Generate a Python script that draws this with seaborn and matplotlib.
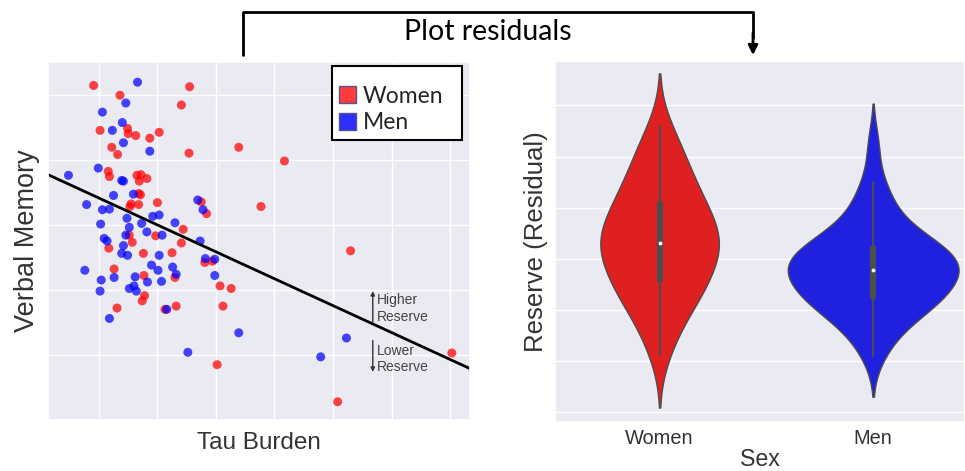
import numpy as np
import pandas as pd
import matplotlib
matplotlib.use("Agg")
import matplotlib.pyplot as plt
from matplotlib.patches import Patch
from matplotlib.lines import Line2D
import seaborn as sns

# scatter values (arbitrary units, no tick labels in the original)
women_tau = [0.91, 2.55, 1.36, 2.41, 1.02, 1.49, 1.50, 1.63, 1.87, 2.03, 1.22, 1.32, 2.54, 3.39,
             1.16, 1.18, 1.65, 1.72, 1.82, 1.69, 1.68, 1.71, 1.55, 1.53, 1.68, 2.00, 2.75, 2.84,
             3.77, 2.44, 1.52, 1.97, 1.57, 2.41, 1.17, 1.76, 2.25, 2.81, 2.94, 1.26, 2.30, 1.77,
             3.07, 3.26, 1.78, 1.74, 1.31, 2.13, 2.32, 3.12, 3.02, 4.17, 5.30, 5.08, 7.03]
women_mem = [5.14, 5.12, 4.99, 4.84, 4.45, 4.48, 4.40, 4.37, 4.33, 4.42, 4.19, 4.08, 4.10, 4.19,
             3.82, 3.74, 3.76, 3.77, 3.71, 3.67, 3.48, 3.46, 3.32, 3.28, 3.31, 3.34, 3.35, 3.17,
             3.28, 2.93, 2.84, 2.83, 2.73, 2.72, 2.64, 2.56, 2.57, 2.42, 2.44, 2.32, 2.19, 2.22,
             2.06, 2.02, 1.91, 1.83, 1.72, 1.70, 1.75, 1.75, 0.85, 3.98, 2.60, 0.28, 1.03]
men_tau = [1.66, 1.46, 1.06, 1.40, 1.23, 1.42, 1.87, 0.48, 0.99, 1.39, 1.42, 1.25, 1.59, 0.79,
           1.06, 1.18, 2.69, 2.78, 1.92, 2.03, 1.48, 1.03, 2.30, 1.52, 1.73, 1.82, 1.09, 1.14,
           1.46, 2.08, 2.73, 1.42, 1.39, 1.49, 2.03, 2.82, 2.98, 0.76, 1.90, 2.01, 2.26, 2.32,
           1.04, 1.26, 1.62, 1.83, 2.07, 2.98, 1.02, 1.52, 1.64, 1.60, 2.16, 1.18, 3.39, 2.52,
           5.23, 4.79]
men_mem = [5.19, 4.87, 4.73, 4.57, 4.45, 4.26, 4.13, 3.76, 3.87, 3.68, 3.67, 3.45, 3.47, 3.31,
           3.23, 3.24, 3.38, 3.23, 3.13, 3.15, 3.10, 3.01, 3.03, 2.96, 3.02, 2.89, 2.79, 2.75,
           2.84, 2.84, 2.75, 2.68, 2.56, 2.53, 2.53, 2.48, 2.47, 2.30, 2.38, 2.30, 2.35, 2.24,
           2.15, 2.19, 2.20, 2.12, 2.13, 2.22, 1.98, 2.02, 1.98, 2.06, 1.70, 1.56, 1.34, 1.04,
           1.26, 0.97]

# fitted line end points
fit_tau = [0.13, 7.34]
fit_mem = [3.77, 0.79]

# residuals shown in the violins
women_resid = [-1.87, -1.55, -1.30, -1.10, -0.95, -0.82, -0.70, -0.62, -0.55, -0.48,
               -0.40, -0.30, -0.20, -0.10, 0.00, 0.08, 0.15, 0.22, 0.27, 0.30,
               0.33, 0.40, 0.48, 0.56, 0.65, 0.74, 0.83, 0.92, 0.99, 1.06,
               1.15, 1.27, 1.40, 1.52, 1.66, 1.80, 1.96, 2.12, 2.33, 2.59]
men_resid = [-1.89, -1.60, -1.40, -1.25, -1.12, -1.02, -0.95, -0.88, -0.84, -0.80,
             -0.74, -0.68, -0.62, -0.56, -0.50, -0.44, -0.38, -0.32, -0.27, -0.23,
             -0.19, -0.15, -0.10, -0.06, -0.02, 0.03, 0.08, 0.12, 0.16, 0.20,
             0.26, 0.33, 0.42, 0.52, 0.65, 0.80, 1.00, 1.25, 1.50, 2.23]

sexes = ["Women", "Men"]
sex_colors = ["red", "blue"]

scatter_df = pd.concat([
    pd.DataFrame({"tau": women_tau, "memory": women_mem, "sex": "Women"}),
    pd.DataFrame({"tau": men_tau, "memory": men_mem, "sex": "Men"}),
], ignore_index=True)
resid_df = pd.concat([
    pd.DataFrame({"resid": women_resid, "sex": "Women"}),
    pd.DataFrame({"resid": men_resid, "sex": "Men"}),
], ignore_index=True)

sns.set_theme(style="darkgrid")
plt.rcParams["font.family"] = ["Liberation Sans", "DejaVu Sans"]
label_color = "#333333"

fig = plt.figure(figsize=(9.65, 4.71), dpi=100)
fig.patch.set_facecolor("white")
ax1 = fig.add_axes([0.0497, 0.1083, 0.4373, 0.760])
ax2 = fig.add_axes([0.5751, 0.104, 0.4249, 0.7665])

# left: scatter + fitted line
sns.scatterplot(data=scatter_df, x="tau", y="memory", hue="sex", hue_order=sexes,
                palette=sex_colors, s=42, alpha=0.72, linewidth=0, legend=False, ax=ax1)
sns.lineplot(x=fit_tau, y=fit_mem, color="black", linewidth=2, ax=ax1)
ax1.set_xlim(0.13, 7.34)
ax1.set_ylim(0.0, 5.5)
ax1.set_xticks(range(1, 8))
ax1.set_yticks(range(1, 6))
ax1.set_xticklabels([])
ax1.set_yticklabels([])
ax1.tick_params(length=0, pad=0)
ax1.set_xlabel("Tau Burden", fontsize=17.5, color=label_color, labelpad=9)
ax1.set_ylabel("Verbal Memory", fontsize=19.5, color=label_color, labelpad=6)

handles = [Patch(facecolor="#ff3b3b", edgecolor="#55558a", label="Women"),
           Patch(facecolor="#2e2eff", edgecolor="#55558a", label="Men")]
leg = ax1.legend(handles=handles, loc="upper left", bbox_to_anchor=(0.673, 0.774, 0.308, 0.215),
                 mode="expand", borderaxespad=0, title=" ", title_fontsize=6,
                 fancybox=False, framealpha=1,
                 handlelength=0.75, handleheight=0.75, handletextpad=0.3,
                 borderpad=0.3, labelspacing=0.25,
                 prop={"family": "Lato", "size": 16.5})
leg.get_frame().set_edgecolor("black")
leg.get_frame().set_linewidth(1.5)
leg.get_frame().set_facecolor("white")

# small reserve arrows
ax1.annotate("", xy=(5.68, 1.98), xytext=(5.68, 1.50),
             arrowprops=dict(arrowstyle="-|>", color="#333333", lw=1, mutation_scale=6,
                             shrinkA=0, shrinkB=0))
ax1.annotate("", xy=(5.68, 0.74), xytext=(5.68, 1.22),
             arrowprops=dict(arrowstyle="-|>", color="#333333", lw=1, mutation_scale=6,
                             shrinkA=0, shrinkB=0))
for txt, yy in [("Higher", 1.84), ("Reserve", 1.58), ("Lower", 1.06), ("Reserve", 0.82)]:
    ax1.text(5.75, yy, txt, fontsize=10, color="#444444", va="center", ha="left")

# right: violins of residuals
sns.violinplot(data=resid_df, x="sex", y="resid", hue="sex", order=sexes, hue_order=sexes,
               palette=sex_colors, legend=False, linewidth=1, common_norm=True,
               inner_kws=dict(marker="."), ax=ax2)
ax2.set_xlim(-0.49, 1.43)
ax2.set_ylim(-3.19, 3.87)
ax2.set_yticks(range(-3, 4))
ax2.set_yticklabels([])
ax2.grid(axis="x", visible=False)
ax2.tick_params(axis="x", length=0, pad=5)
ax2.tick_params(axis="y", length=0, pad=0)
for lbl in ax2.get_xticklabels():
    lbl.set_fontsize(14.4)
    lbl.set_color(label_color)
ax2.set_xlabel("Sex", fontsize=16.7, color=label_color, labelpad=0)
ax2.set_ylabel("Reserve (Residual)", fontsize=18.5, color=label_color, labelpad=5)

# header bracket
fig.add_artist(Line2D([0.2518, 0.2518, 0.7803, 0.7803], [0.883, 0.9745, 0.9745, 0.92],
                      transform=fig.transFigure, color="black", lw=2))
ax1.annotate("", xy=(0.7803, 0.883), xytext=(0.7803, 0.93), xycoords="figure fraction",
             textcoords="figure fraction",
             arrowprops=dict(arrowstyle="-|>", color="black", lw=2, mutation_scale=14,
                             shrinkA=0, shrinkB=0), annotation_clip=False)
fig.text(0.5057, 0.915, "Plot residuals", ha="center", va="baseline",
         fontsize=20.5, family="Lato", color="black")

fig.savefig("out.png", dpi=100)
